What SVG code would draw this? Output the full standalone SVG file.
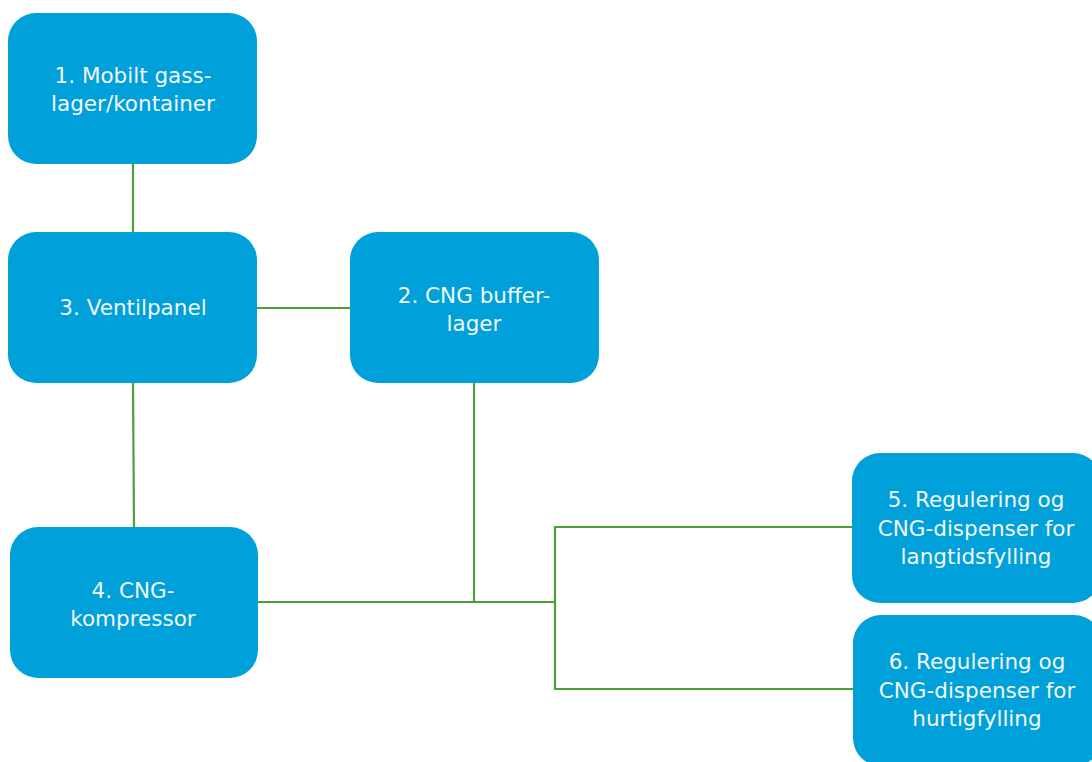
<svg xmlns="http://www.w3.org/2000/svg" width="1092" height="762" viewBox="0 0 1092 762">
<style>
.box{fill:#00A0DA;}
.t{font-family:"DejaVu Sans","Liberation Sans",sans-serif;font-size:21.5px;fill:#F2F8FC;text-anchor:middle;}
.c{stroke:#4E9E3A;stroke-width:2.2;fill:none;}
</style>
<rect width="1092" height="762" fill="#FFFFFF"/>
<g id="connectors">
<line class="c" x1="133" y1="164" x2="133" y2="232"/>
<line class="c" x1="257" y1="308" x2="350" y2="308"/>
<line class="c" x1="133" y1="383" x2="134" y2="527"/>
<line class="c" x1="474" y1="383" x2="474" y2="602"/>
<line class="c" x1="258" y1="602" x2="555" y2="602"/>
<polyline class="c" points="852,527 555,527 555,689 853,689"/>
</g>
<g id="node1">
<rect class="box" x="8" y="13" width="249" height="151" rx="28"/>
<text class="t" x="133" y="83">1. Mobilt gass-</text>
<text class="t" x="133" y="111">lager/kontainer</text>
</g>
<g id="node3">
<rect class="box" x="8" y="232" width="249" height="151" rx="28"/>
<text class="t" x="133" y="315">3. Ventilpanel</text>
</g>
<g id="node2">
<rect class="box" x="350" y="232" width="249" height="151" rx="28"/>
<text class="t" x="474" y="303">2. CNG buffer-</text>
<text class="t" x="474" y="331">lager</text>
</g>
<g id="node4">
<rect class="box" x="10" y="527" width="248" height="151" rx="28"/>
<text class="t" x="133" y="598">4. CNG-</text>
<text class="t" x="133" y="626">kompressor</text>
</g>
<g id="node5">
<rect class="box" x="852" y="453" width="249" height="150" rx="28"/>
<text class="t" x="976" y="507">5. Regulering og</text>
<text class="t" x="976" y="536">CNG-dispenser for</text>
<text class="t" x="976" y="564">langtidsfylling</text>
</g>
<g id="node6">
<rect class="box" x="853" y="615" width="249" height="151" rx="28"/>
<text class="t" x="977" y="669">6. Regulering og</text>
<text class="t" x="977" y="698">CNG-dispenser for</text>
<text class="t" x="977" y="726">hurtigfylling</text>
</g>
</svg>
